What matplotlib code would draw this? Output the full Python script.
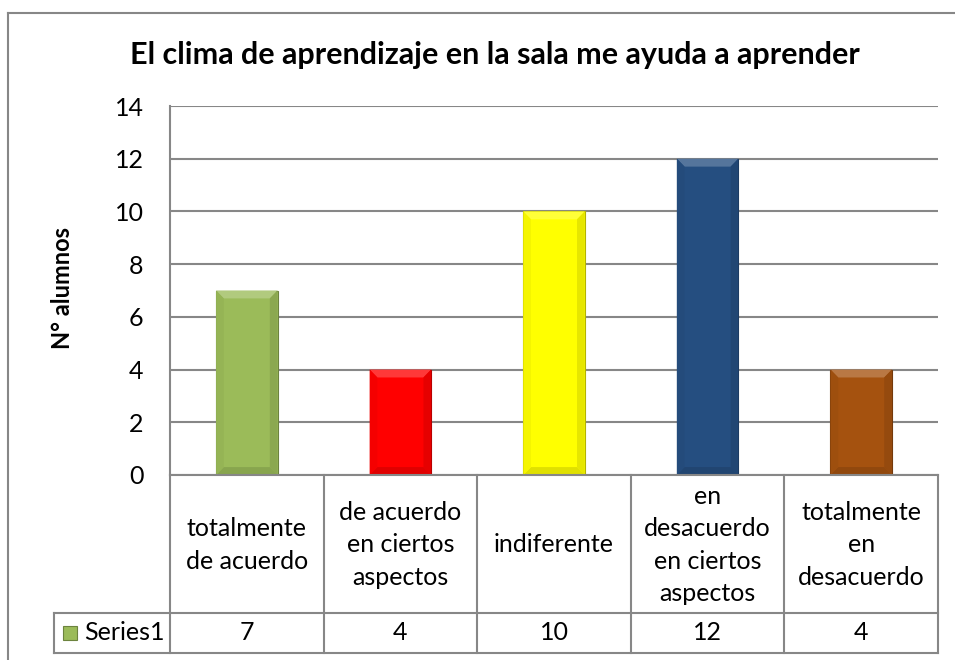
import numpy as np
import matplotlib
matplotlib.use("Agg")
import matplotlib.pyplot as plt
from matplotlib.patches import Polygon, Rectangle
from matplotlib.lines import Line2D
import matplotlib.colors as mcolors

# data
categories = ["totalmente\nde acuerdo",
              "de acuerdo\nen ciertos\naspectos",
              "indiferente",
              "en\ndesacuerdo\nen ciertos\naspectos",
              "totalmente\nen\ndesacuerdo"]
values = [7, 4, 10, 12, 4]
bar_colors = ["#9BBB59", "#FF0000", "#FFFF00", "#254E80", "#A5520F"]
series_name = "Series1"
title = "El clima de aprendizaje en la sala me ayuda a aprender"
ylabel = "N° alumnos"

W, H = 955, 660
FONT = "Lato"
GRID = "#878787"
FS = 18

plt.rcParams['font.family'] = [FONT, 'DejaVu Sans']

fig = plt.figure(figsize=(W / 100, H / 100), dpi=100)

def fx(px):
    return px / W

def fy(py):
    return 1 - py / H

# plot area in pixels
L, R, T, B = 170, 938, 106, 475
ax = fig.add_axes([fx(L), fy(B), fx(R) - fx(L), fy(T) - fy(B)])

n = len(values)
x = np.arange(n)
ax.set_xlim(-0.5, n - 0.5)
ax.set_ylim(0, 14)
ax.set_yticks(range(0, 15, 2))
ax.yaxis.grid(True, color=GRID, lw=1.5)
ax.set_axisbelow(True)
for s in ["top", "right", "bottom"]:
    ax.spines[s].set_visible(False)
ax.spines["left"].set_color(GRID)
ax.spines["left"].set_linewidth(1.5)
ax.tick_params(axis="y", length=0, labelsize=FS, pad=19)
ax.tick_params(axis="x", length=0, labelbottom=False)

def shade(c, f):
    r = np.array(mcolors.to_rgb(c))
    if f > 0:
        r = r + (1 - r) * f
    else:
        r = r * (1 + f)
    return np.clip(r, 0, 1)

bw = 0.4
bars = ax.bar(x, values, width=bw, color=bar_colors, zorder=3,
              edgecolor=[shade(c, -0.3) for c in bar_colors], linewidth=0.8)

# soft bevel on each bar
dx = 0.05
dy = 0.3
for b, c in zip(bars, bar_colors):
    x0, x1 = b.get_x(), b.get_x() + b.get_width()
    h = b.get_height()
    ax.add_patch(Polygon([(x0, h), (x1, h), (x1 - dx, h - dy), (x0 + dx, h - dy)],
                         closed=True, color=shade(c, 0.22), lw=0, zorder=4))
    ax.add_patch(Polygon([(x1, h), (x1, 0), (x1 - dx, dy), (x1 - dx, h - dy)],
                         closed=True, color=shade(c, -0.1), lw=0, zorder=4))
    ax.add_patch(Polygon([(x0, 0), (x1, 0), (x1 - dx, dy), (x0 + dx, dy)],
                         closed=True, color=shade(c, -0.12), lw=0, zorder=4))
    ax.add_patch(Polygon([(x0, h), (x0, 0), (x0 + dx, dy), (x0 + dx, h - dy)],
                         closed=True, color=shade(c, -0.04), lw=0, zorder=4))

# data table below the plot
row1, row2 = 613, 653
leg_left = 54
cw = (R - L) / n
lines = []
lines.append(((L, R), (B, B)))
lines.append(((leg_left, R), (row1, row1)))
lines.append(((leg_left, R), (row2, row2)))
lines.append(((L, L), (B, row2)))
lines.append(((leg_left, leg_left), (row1, row2)))
for i in range(1, n + 1):
    xc = L + i * cw
    lines.append(((xc, xc), (B, row2)))
for (xs, ys) in lines:
    fig.add_artist(Line2D([fx(v) for v in xs], [fy(v) for v in ys],
                          color=GRID, lw=1.5))

for i, (cat, v) in enumerate(zip(categories, values)):
    xc = L + (i + 0.5) * cw
    fig.text(fx(xc), fy((B + row1) / 2 + 1), cat, ha="center", va="center",
             fontsize=FS, linespacing=1.5)
    fig.text(fx(xc), fy((row1 + row2) / 2), str(v), ha="center", va="center",
             fontsize=FS)

# legend key in the table
fig.add_artist(Rectangle((fx(63), fy(640)), fx(14), 14 / H,
                         facecolor=bar_colors[0],
                         edgecolor=shade(bar_colors[0], -0.3), lw=0.8))
fig.text(fx(84), fy((row1 + row2) / 2), series_name, ha="left", va="center",
         fontsize=FS)

# title and axis label
fig.text(fx(495), fy(55), title, ha="center", va="center",
         fontsize=22, fontweight="bold")
fig.text(fx(62), fy(288), ylabel, ha="center", va="center", rotation=90,
         fontsize=17, fontweight="bold")

# outer chart border
fig.add_artist(Line2D([fx(8), 1], [fy(13), fy(13)], color=GRID, lw=1.5))
fig.add_artist(Line2D([fx(8), fx(8)], [fy(13), 0], color=GRID, lw=1.5))

fig.savefig("out.png", dpi=100)
